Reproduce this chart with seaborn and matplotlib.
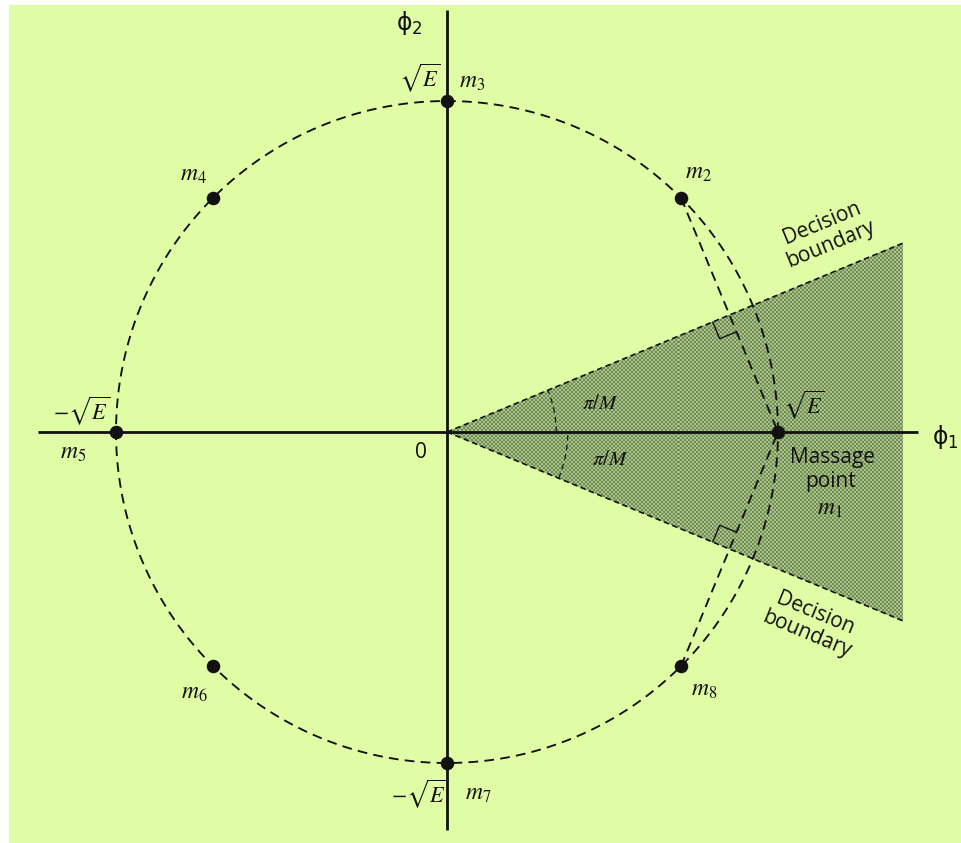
import numpy as np
import pandas as pd
import matplotlib
matplotlib.use("Agg")
import matplotlib.pyplot as plt
from matplotlib.patches import Polygon, Rectangle, Arc
from matplotlib.colors import ListedColormap
import seaborn as sns

# ---- 8-PSK signal constellation (amplitude sqrt(E) normalised to 1) ----
M = 8
point_names = ["m_1", "m_2", "m_3", "m_4", "m_5", "m_6", "m_7", "m_8"]
point_angles_deg = [0, 45, 90, 135, 180, 225, 270, 315]
amplitude = [1.0, 1.0, 1.0, 1.0, 1.0, 1.0, 1.0, 1.0]

# label offsets (pixels) of each message-point name relative to its dot
label_dx = [0, 17, 25, -19, -43, -19, 31, 23]
label_dy = [0, 26, 20, 24, -20, -26, -30, -23]

sns.set_style("white")
plt.rcParams["mathtext.fontset"] = "stix"
plt.rcParams["lines.scale_dashes"] = False

W, H, DPI = 961, 843, 100
PX = 331.0               # pixels per unit of sqrt(E)
OX, OY = 447.0, 432.0    # origin position in pixels

fig = plt.figure(figsize=(W / DPI, H / DPI), dpi=DPI, facecolor="white")
ax = fig.add_axes([0, 0, 1, 1])
ax.set_xlim(-OX / PX, (W - OX) / PX)
ax.set_ylim(-(H - OY) / PX, OY / PX)
ax.set_aspect("equal")
ax.axis("off")
ax.set_facecolor("none")

BG = "#e0fca5"
INK = "#111111"
ax.add_patch(Rectangle((9 / W, 0), 1 - 9 / W, (H - 5) / H, transform=ax.transAxes,
                       facecolor=BG, edgecolor="none", zorder=0))

df = pd.DataFrame({
    "name": point_names,
    "angle": np.deg2rad(point_angles_deg),
    "r": amplitude,
})
df["x"] = df["r"] * np.cos(df["angle"])
df["y"] = df["r"] * np.sin(df["angle"])

def px(xp, yp):
    return (xp - OX) / PX, (OY - yp) / PX

# ---- decision region of m1: wedge of half-angle pi/M, halftone shading ----
half = np.pi / M
x_end = (903 - OX) / PX
y_end = x_end * np.tan(half)
wedge_patch = Polygon([[0, 0], [x_end, y_end], [x_end, -y_end]], closed=True,
                      facecolor="#8aa566", edgecolor="none", zorder=1)
ax.add_patch(wedge_patch)
cell = 2
nx = int(round((x_end * PX) / cell))
ny = int(round((2 * y_end * PX) / cell))
jj, ii = np.meshgrid(np.arange(nx), np.arange(ny))
screen = ((ii + jj) % 2).astype(float)
img = ax.imshow(screen, cmap=ListedColormap(["#718c56", "#a9c386"]),
                extent=(0, nx * cell / PX, -ny * cell / (2 * PX), ny * cell / (2 * PX)),
                interpolation="nearest", origin="lower", zorder=1.5, aspect="auto")
img.set_clip_path(wedge_patch)
ax.set_xlim(-OX / PX, (W - OX) / PX)
ax.set_ylim(-(H - OY) / PX, OY / PX)

for sgn in (1, -1):
    ax.plot([0, x_end], [0, sgn * y_end], color=INK, lw=1.2,
            linestyle=(0, (4, 2.5)), zorder=3)

# ---- coordinate axes phi1, phi2 ----
ax.plot([(38 - OX) / PX, (918 - OX) / PX], [0, 0], color=INK, lw=2.0, zorder=4,
        solid_capstyle="butt")
ax.plot([0, 0], [(OY - 830) / PX, (OY - 10) / PX], color=INK, lw=2.0, zorder=4,
        solid_capstyle="butt")

# ---- dashed circle of radius sqrt(E) ----
th = np.linspace(0, 2 * np.pi, 1441)
ax.plot(np.cos(th), np.sin(th), color=INK, lw=1.35, linestyle=(0, (7, 4.5)), zorder=3)

# ---- chords m1-m2 and m1-m8, perpendicular to the decision boundaries ----
p1 = df.loc[0, ["x", "y"]].to_numpy(float)
for idx, sgn in ((1, 1), (7, -1)):
    pk = df.loc[idx, ["x", "y"]].to_numpy(float)
    ax.plot([pk[0], p1[0]], [pk[1], p1[1]], color=INK, lw=1.35,
            linestyle=(0, (7, 4.5)), zorder=3)
    foot = (pk + p1) / 2
    u = np.array([np.cos(half), sgn * np.sin(half)])        # along boundary
    n = np.array([np.sin(half), -sgn * np.cos(half)])       # toward m1
    s = 0.055
    sq = np.array([foot, foot - s * u, foot - s * u + s * n, foot + s * n])
    ax.plot(sq[1:, 0], sq[1:, 1], color=INK, lw=1.0, zorder=3)

# ---- angle arcs pi/M ----
ax.add_patch(Arc((0, 0), 2 * 0.33, 2 * 0.33, theta1=0, theta2=np.rad2deg(half),
                 color=INK, lw=0.9, linestyle=(0, (4, 3)), zorder=3))
ax.add_patch(Arc((0, 0), 2 * 0.365, 2 * 0.365, theta1=-np.rad2deg(half), theta2=0,
                 color=INK, lw=0.9, linestyle=(0, (4, 3)), zorder=3))

# ---- message points ----
sns.scatterplot(data=df, x="x", y="y", ax=ax, s=95, color=INK, edgecolor=INK,
                linewidth=0, zorder=5, legend=False)

for i in range(1, M):
    ax.annotate(f"${point_names[i]}$", (df.loc[i, "x"], df.loc[i, "y"]),
                xytext=(label_dx[i], label_dy[i]), textcoords="offset pixels",
                ha="center", va="center", fontsize=17, color=INK, zorder=6)

serif = dict(fontsize=16, color=INK, zorder=6)
ax.text(*px(420, 78), r"$\sqrt{E}$", ha="center", va="center", **serif)
ax.text(*px(82, 411), r"$-\sqrt{E}$", ha="center", va="center", **serif)
ax.text(*px(804, 405), r"$\sqrt{E}$", ha="center", va="center", **serif)
ax.text(*px(420, 794), r"$-\sqrt{E}$", ha="center", va="center", **serif)
ax.text(*px(600, 403), r"$\pi/M$", ha="center", va="center", fontsize=15, color=INK, zorder=6)
ax.text(*px(610, 459), r"$\pi/M$", ha="center", va="center", fontsize=15, color=INK, zorder=6)

ax.text(*px(409, 23), r"$\mathrm{\phi}_2$", ha="center", va="center", fontsize=17,
        color=INK, zorder=6, math_fontfamily="dejavusans")
ax.text(*px(945, 437), r"$\mathrm{\phi}_1$", ha="center", va="center", fontsize=17,
        color=INK, zorder=6, math_fontfamily="dejavusans")
ax.text(*px(421, 452), "0", ha="center", va="center", fontsize=15, color=INK,
        family="Open Sans", zorder=6)

sans = dict(family="Open Sans", fontsize=15, color=INK, zorder=6, linespacing=1.1)
ax.text(*px(832, 458), "Massage", ha="center", va="center", **sans)
ax.text(*px(831, 482), "point", ha="center", va="center", **sans)
ax.text(*px(830, 508), r"$m_1$", ha="center", va="center", fontsize=17, color=INK, zorder=6)

ax.text(*px(826, 234), "Decision\nboundary", ha="center", va="center",
        rotation=np.rad2deg(half), **sans)
ax.text(*px(811, 624), "Decision\nboundary", ha="center", va="center",
        rotation=-np.rad2deg(half), **sans)

fig.savefig("out.png", dpi=DPI, facecolor="white")
